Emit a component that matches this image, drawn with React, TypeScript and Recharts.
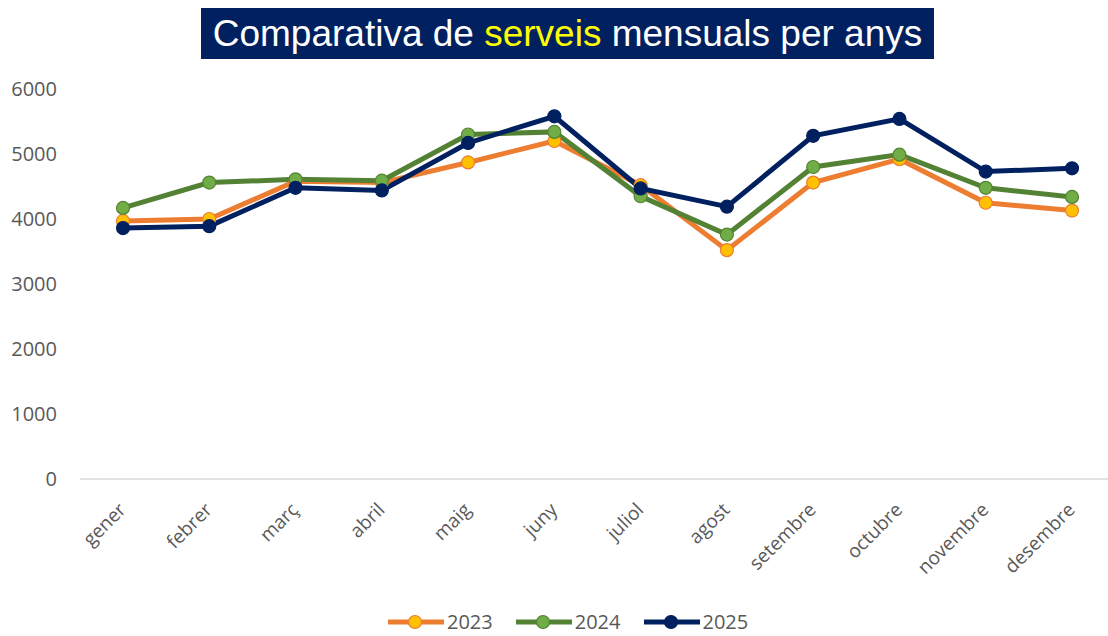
import React from 'react';
import { LineChart, Line, XAxis, YAxis, Legend } from 'recharts';

const months = ['gener', 'febrer', 'març', 'abril', 'maig', 'juny', 'juliol', 'agost', 'setembre', 'octubre', 'novembre', 'desembre'];
const serveis2023 = [3970, 4000, 4580, 4560, 4870, 5200, 4520, 3520, 4560, 4920, 4250, 4130];
const serveis2024 = [4170, 4560, 4610, 4590, 5300, 5340, 4350, 3760, 4800, 4990, 4480, 4340];
const serveis2025 = [3860, 3890, 4480, 4440, 5170, 5580, 4470, 4190, 5280, 5540, 4730, 4780];
const yTicks = [0, 1000, 2000, 3000, 4000, 5000, 6000];

const data = months.map((m, i) => ({
  month: m,
  s2023: serveis2023[i],
  s2024: serveis2024[i],
  s2025: serveis2025[i],
}));

const seriesStyle = [
  { key: 's2023', name: '2023', line: '#ED7D31', fill: '#FFC000', stroke: '#ED7D31' },
  { key: 's2024', name: '2024', line: '#548235', fill: '#70AD47', stroke: '#548235' },
  { key: 's2025', name: '2025', line: '#002060', fill: '#002060', stroke: '#002060' },
];

const FONT = '"Open Sans", sans-serif';

const XTick = (props: any) => {
  const { x, y, payload } = props;
  const ax = x + 4;
  const ay = y + 32;
  return (
    <text
      x={ax}
      y={ay}
      textAnchor="end"
      transform={`rotate(-45, ${ax}, ${ay})`}
      fill="#595959"
      fontSize={19}
      fontFamily={FONT}
    >
      {payload.value}
    </text>
  );
};

const LegendContent = () => (
  <div style={{ height: 40, position: 'relative', fontFamily: FONT }}>
    <div style={{ position: 'absolute', left: 388, top: 16, display: 'flex', alignItems: 'center', height: 20 }}>
      {seriesStyle.map((s, i) => (
        <div key={s.key} style={{ display: 'flex', alignItems: 'center', marginLeft: i === 0 ? 0 : 23 }}>
          <svg width={56} height={18} style={{ display: 'block' }}>
            <line x1={0} y1={9} x2={56} y2={9} stroke={s.line} strokeWidth={5} strokeLinecap="round" />
            <circle cx={27} cy={9} r={6.5} fill={s.fill} stroke={s.stroke} strokeWidth={1.2} />
          </svg>
          <span style={{ marginLeft: 3, fontSize: 20, color: '#595959', lineHeight: '20px' }}>{s.name}</span>
        </div>
      ))}
    </div>
  </div>
);

export default function App() {
  return (
    <div style={{ position: 'absolute', left: 0, top: 0, width: 1108, height: 636, overflow: 'hidden', background: '#fff' }}>
      <div
        style={{
          position: 'absolute',
          left: 201,
          top: 8,
          width: 733,
          height: 51,
          background: '#002060',
          color: '#fff',
          fontFamily: '"Liberation Sans", Arial, sans-serif',
          fontSize: 37,
          lineHeight: '51px',
          textAlign: 'center',
          whiteSpace: 'nowrap',
          zIndex: 2,
        }}
      >
        Comparativa de <span style={{ color: '#FFFF00' }}>serveis</span> mensuals per anys
      </div>
      <LineChart width={1116} height={636} data={data} margin={{ top: 89, right: 1, bottom: 0, left: 0 }}>
        <XAxis
          dataKey="month"
          interval={0}
          padding={{ left: 43, right: 43 }}
          axisLine={{ stroke: '#D9D9D9', strokeWidth: 1.5 }}
          tickLine={false}
          tickSize={0}
          tickMargin={0}
          height={117}
          tick={<XTick />}
        />
        <YAxis
          domain={[0, 6000]}
          ticks={yTicks}
          width={80}
          axisLine={false}
          tickLine={false}
          tickSize={0}
          tickMargin={23}
          tick={{ fill: '#595959', fontSize: 20, fontFamily: FONT }}
        />
        <Legend verticalAlign="bottom" height={40} wrapperStyle={{ left: 0, width: 1108 }} content={<LegendContent />} />
        {seriesStyle.map((s) => (
          <Line
            key={s.key}
            type="linear"
            dataKey={s.key}
            name={s.name}
            stroke={s.line}
            strokeWidth={5}
            dot={{ r: 6.5, fill: s.fill, stroke: s.stroke, strokeWidth: 1.2 }}
            activeDot={false}
            isAnimationActive={false}
          />
        ))}
      </LineChart>
    </div>
  );
}
